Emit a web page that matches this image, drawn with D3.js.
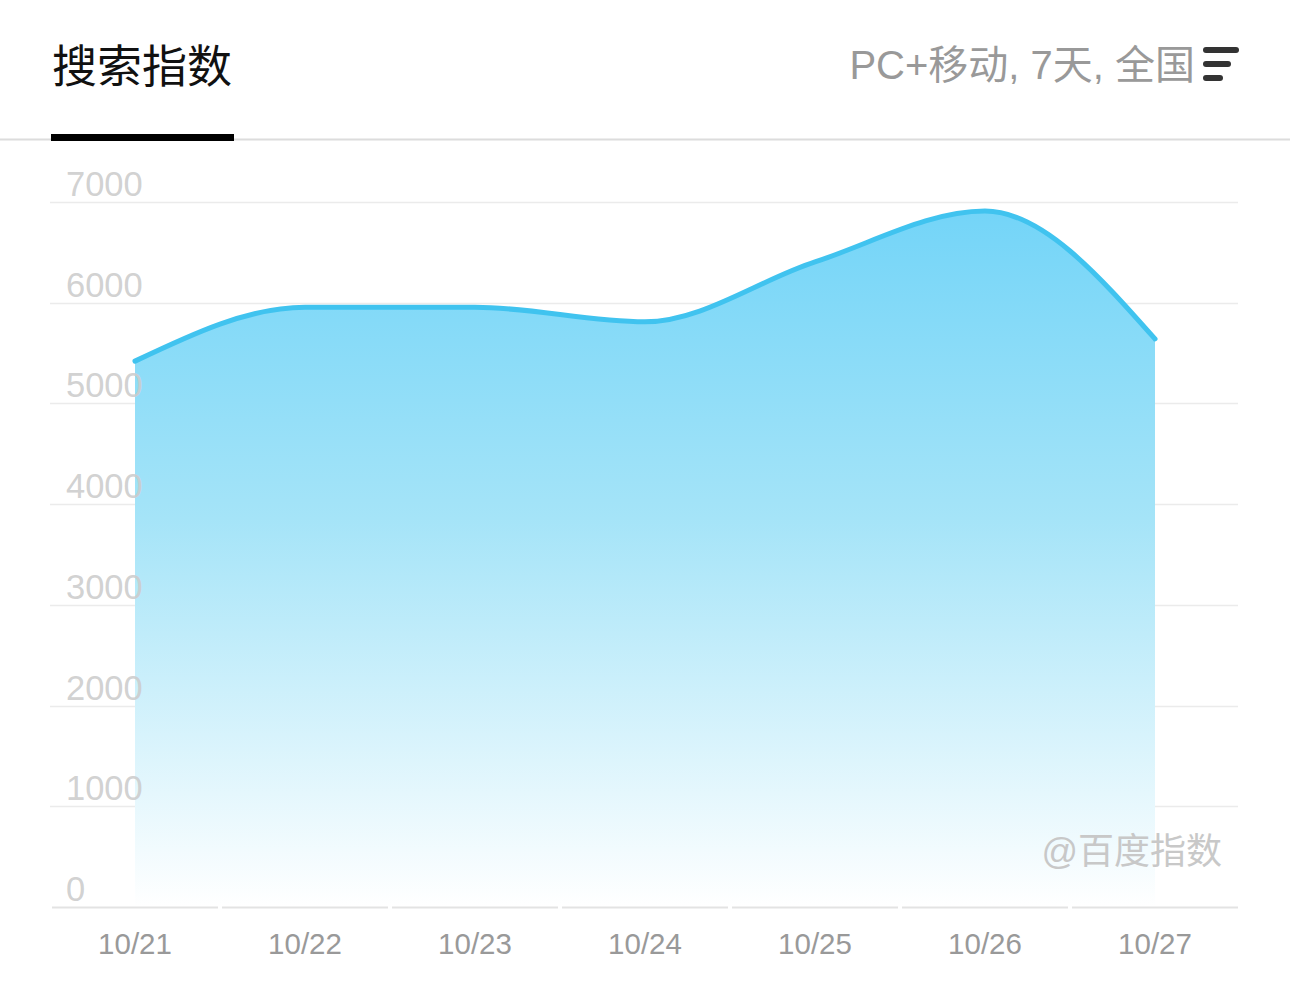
<!DOCTYPE html>
<html>
<head>
<meta charset="utf-8">
<script src="https://cdn.jsdelivr.net/npm/d3@7"></script>
<style>
  body { margin: 0; background: #fff; }
  svg { display: block; font-family: "Liberation Sans", "Noto Sans CJK SC", sans-serif; }
</style>
</head>
<body>
<script>
// data
const dates = ['10/21', '10/22', '10/23', '10/24', '10/25', '10/26', '10/27']
const values = [5420, 5955, 5955, 5810, 6405, 6910, 5640]
const yTicks = [0, 1000, 2000, 3000, 4000, 5000, 6000, 7000]

const W = 1290, H = 983
const svg = d3.select('body').append('svg')
  .attr('width', W)
  .attr('height', H)

// header
svg.append('text')
  .attr('x', 52).attr('y', 83)
  .style('font-family', '"Noto Sans CJK SC"')
  .style('font-size', '45px')
  .attr('fill', '#111')
  .text('搜索指数')

svg.append('line')
  .attr('x1', 0).attr('x2', W)
  .attr('y1', 139.5).attr('y2', 139.5)
  .attr('stroke', '#dcdcdc').attr('stroke-width', 2)

svg.append('rect')
  .attr('x', 51).attr('y', 134)
  .attr('width', 183).attr('height', 7)
  .attr('fill', '#000')

svg.append('text')
  .attr('x', 1195).attr('y', 79)
  .attr('text-anchor', 'end')
  .style('font-family', '"Liberation Sans", "Noto Sans CJK SC"')
  .style('font-size', '40px')
  .attr('fill', '#999')
  .text('PC+移动, 7天, 全国')

// menu icon
const icon = svg.append('g').attr('stroke', '#333').attr('stroke-width', 6).attr('stroke-linecap', 'round')
;[[1206, 1236, 50], [1206, 1228, 64], [1206, 1220, 78]].forEach(function (b) {
  icon.append('line').attr('x1', b[0]).attr('x2', b[1]).attr('y1', b[2]).attr('y2', b[2])
})

// scales
const xScale = d3.scalePoint()
  .domain(dates)
  .range([135, 1155])

const yScale = d3.scaleLinear()
  .domain([0, 7000])
  .range([907, 202])

// grid lines
svg.append('g')
  .selectAll('line')
  .data(yTicks.filter(d => d > 0))
  .enter().append('line')
  .attr('x1', 50).attr('x2', 1238)
  .attr('y1', d => Math.round(yScale(d)) + 0.5)
  .attr('y2', d => Math.round(yScale(d)) + 0.5)
  .attr('stroke', '#ebebeb').attr('stroke-width', 1.5)

// gradient for area
const defs = svg.append('defs')
const grad = defs.append('linearGradient')
  .attr('id', 'areaGrad')
  .attr('gradientUnits', 'userSpaceOnUse')
  .attr('x1', 0).attr('x2', 0)
  .attr('y1', yScale(7000)).attr('y2', yScale(0))
grad.append('stop').attr('offset', '0%').attr('stop-color', '#72d4f8')
grad.append('stop').attr('offset', '45%').attr('stop-color', '#a5e4f8')
grad.append('stop').attr('offset', '100%').attr('stop-color', '#ffffff')

const pts = dates.map((d, i) => [d, values[i]])

const area = d3.area()
  .x(d => xScale(d[0]))
  .y0(yScale(0))
  .y1(d => yScale(d[1]))
  .curve(d3.curveMonotoneX)

const line = d3.line()
  .x(d => xScale(d[0]))
  .y(d => yScale(d[1]))
  .curve(d3.curveMonotoneX)

svg.append('path')
  .datum(pts)
  .attr('d', area)
  .attr('fill', 'url(#areaGrad)')

// y labels sit over the area
svg.append('g')
  .selectAll('text')
  .data(yTicks)
  .enter().append('text')
  .attr('x', 66)
  .attr('y', d => yScale(d) - 6)
  .style('font-size', '34.5px')
  .attr('fill', '#cccccc')
  .attr('fill-opacity', 0.9)
  .text(d => d)

svg.append('path')
  .datum(pts)
  .attr('d', line)
  .attr('fill', 'none')
  .attr('stroke', '#40c3ef')
  .attr('stroke-width', 5)
  .attr('stroke-linecap', 'round')

// bottom axis, split between dates
const step = xScale.step()
svg.append('g')
  .selectAll('line')
  .data(dates)
  .enter().append('line')
  .attr('x1', (d, i) => i === 0 ? 52 : xScale(d) - step / 2 + 2)
  .attr('x2', (d, i) => i === dates.length - 1 ? 1238 : xScale(d) + step / 2 - 2)
  .attr('y1', yScale(0) + 0.5).attr('y2', yScale(0) + 0.5)
  .attr('stroke', '#e3e3e3').attr('stroke-width', 2)

svg.append('g')
  .selectAll('text')
  .data(dates)
  .enter().append('text')
  .attr('x', d => xScale(d))
  .attr('y', 954)
  .attr('text-anchor', 'middle')
  .style('font-size', '29.5px')
  .attr('fill', '#999')
  .text(d => d)

// watermark
svg.append('text')
  .attr('x', 1222).attr('y', 864)
  .attr('text-anchor', 'end')
  .style('font-family', '"Liberation Sans", "Noto Sans CJK SC"')
  .style('font-size', '36px')
  .attr('fill', '#c8c8c8')
  .text('@百度指数')
</script>
</body>
</html>
